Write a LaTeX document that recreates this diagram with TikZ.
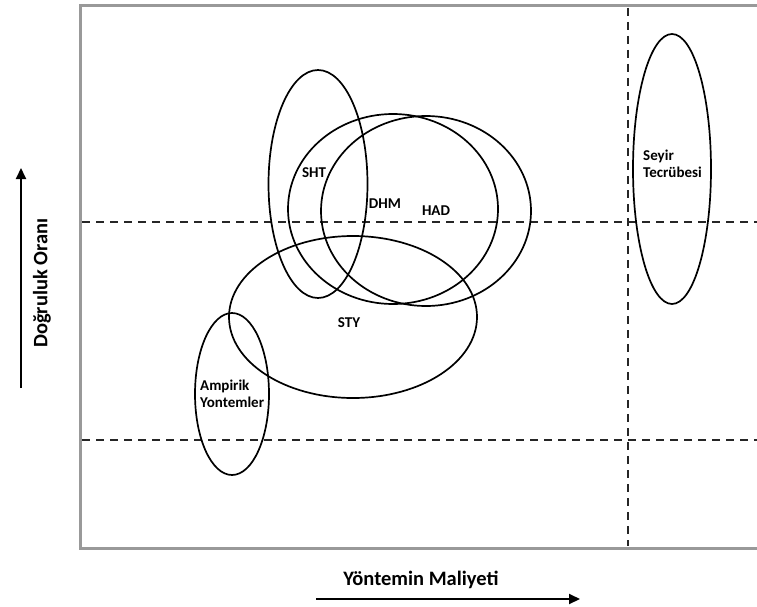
\documentclass[tikz,border=0pt]{standalone}
\usepackage{fontspec}
\setmainfont{Carlito}
\usetikzlibrary{arrows.meta}
\begin{document}
\begin{tikzpicture}[x=1pt,y=-1pt,
  frame/.style={draw=black!40, line width=3pt},
  guide/.style={draw=black!85, line width=1.4pt, dash pattern=on 8pt off 6pt},
  oval/.style={draw=black, line width=1.7pt},
  lbl/.style={font=\fontsize{15}{17}\selectfont\bfseries, inner sep=0pt, align=left},
  axis/.style={draw=black, line width=2pt, -{Triangle[length=11pt,width=10pt]}},
  axlbl/.style={font=\fontsize{20.5}{24}\selectfont\bfseries, inner sep=0pt}]
\useasboundingbox (0,0) rectangle (757,607);
\fill[white] (0,0) rectangle (757,607);
% frame
\coordinate (ftl) at (80,6);
\coordinate (fbl) at (80,548);
\coordinate (ftr) at (760,6);
\coordinate (fbr) at (760,548);
\draw[frame] (ftr) -- (ftl) -- (fbl) -- (fbr);
% guide lines
\coordinate (h1a) at (82,222); \coordinate (h1b) at (757,222);
\coordinate (h2a) at (82,440); \coordinate (h2b) at (757,440);
\coordinate (v1a) at (628,8);  \coordinate (v1b) at (628,546);
\draw[guide] (h1a) -- (h1b);
\draw[guide] (h2a) -- (h2b);
\draw[guide] (v1a) -- (v1b);
% ellipses
\draw[oval] (318,184) ellipse [x radius=49.5pt, y radius=114pt];
\draw[oval] (393,209) ellipse [x radius=105pt, y radius=95pt];
\draw[oval] (426,211) ellipse [x radius=105pt, y radius=95pt];
\draw[oval] (353,317) ellipse [x radius=124pt, y radius=81pt];
\draw[oval] (232,394) ellipse [x radius=37pt, y radius=81pt];
\draw[oval] (672,169) ellipse [x radius=39pt, y radius=135pt];
% labels
\node[lbl] (sht) at (314,173) {SHT};
\node[lbl] (dhm) at (385,204) {DHM};
\node[lbl] (had) at (436,211) {HAD};
\node[lbl] (sty) at (349,323) {STY};
\node[lbl, anchor=west] (amp) at (200,394) {Ampirik\\Yontemler};
\node[lbl, anchor=west] (sey) at (643,164) {Seyir\\Tecrübesi};
% axes
\coordinate (ya) at (21,388); \coordinate (yb) at (21,168);
\draw[axis] (ya) -- (yb);
\node[axlbl, rotate=90] (ylab) at (42,283) {Doğruluk Oranı};
\coordinate (xa) at (316,599); \coordinate (xb) at (580,599);
\draw[axis] (xa) -- (xb);
\node[axlbl] (xlab) at (421,580) {Yöntemin Maliyeti};
\end{tikzpicture}
\end{document}
